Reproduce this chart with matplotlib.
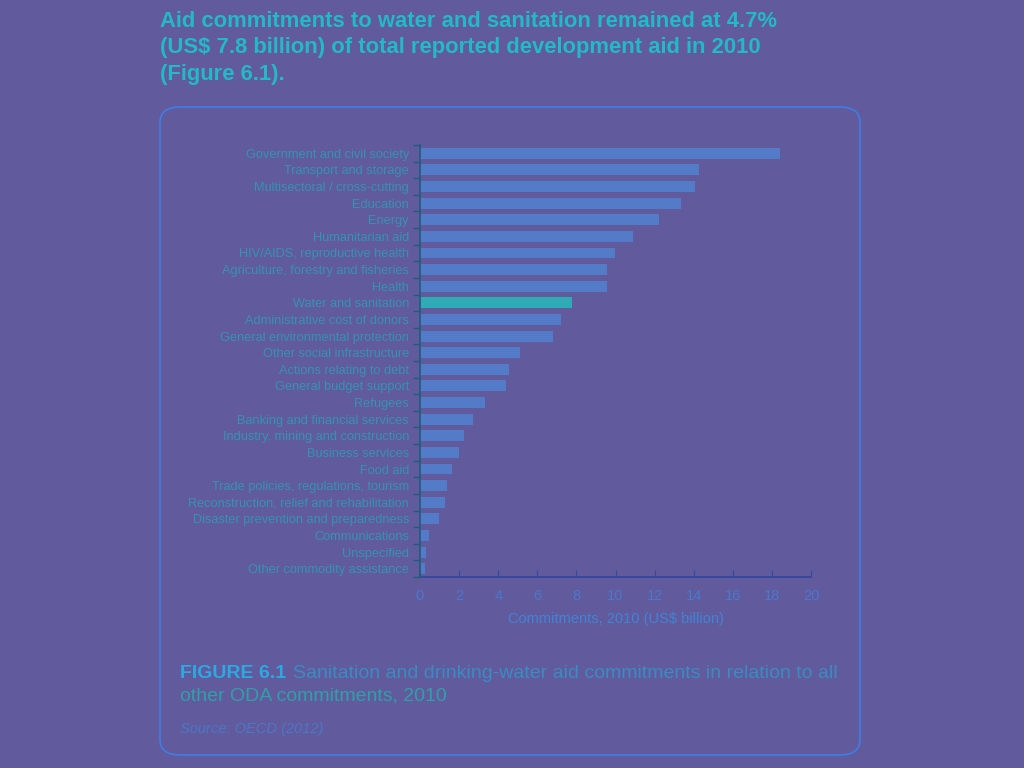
import matplotlib
matplotlib.use('Agg')
import matplotlib.pyplot as plt
from matplotlib.patches import FancyBboxPatch
from matplotlib.ticker import FixedLocator

sectors = ['Government and civil society', 'Transport and storage',
           'Multisectoral / cross-cutting', 'Education', 'Energy',
           'Humanitarian aid', 'HIV/AIDS, reproductive health',
           'Agriculture, forestry and fisheries', 'Health',
           'Water and sanitation', 'Administrative cost of donors',
           'General environmental protection', 'Other social infrastructure',
           'Actions relating to debt', 'General budget support', 'Refugees',
           'Banking and financial services', 'Industry, mining and construction',
           'Business services', 'Food aid', 'Trade policies, regulations, tourism',
           'Reconstruction, relief and rehabilitation',
           'Disaster prevention and preparedness', 'Communications',
           'Unspecified', 'Other commodity assistance']
commitments = [18.4, 14.27, 14.06, 13.33, 12.24, 10.89, 9.99, 9.57, 9.57,
               7.8, 7.2, 6.82, 5.09, 4.55, 4.38, 3.32, 2.69, 2.27, 2.02,
               1.65, 1.37, 1.29, 0.96, 0.44, 0.33, 0.27]
x_ticks = list(range(0, 21, 2))

bg = '#615a9c'
plt.rcParams['font.family'] = ['Liberation Sans Narrow', 'Liberation Sans', 'DejaVu Sans']

fig = plt.figure(figsize=(10.24, 7.68), dpi=100, facecolor=bg)

# rounded frame around the figure
box = FancyBboxPatch((160 / 1024, 1 - 755 / 768), 700 / 1024, 648 / 768,
                     boxstyle='round,pad=0,rounding_size=0.02',
                     transform=fig.transFigure, facecolor='none',
                     edgecolor='#3d7ee6', linewidth=1.2)
fig.patches.append(box)

# headline
fig.text(160 / 1024, 1 - 11 / 768,
         'Aid commitments to water and sanitation remained at 4.7%\n'
         '(US$ 7.8 billion) of total reported development aid in 2010\n'
         '(Figure 6.1).',
         ha='left', va='top', fontsize=15.8, fontweight='bold',
         color='#22b9c9', linespacing=1.33)

ax = fig.add_axes([420 / 1024, 1 - 577 / 768, 391 / 1024, 432 / 768])
ax.set_facecolor(bg)
colors = ['#22c0bc' if s == 'Water and sanitation' else '#5184d2' for s in sectors]
ypos = list(range(len(sectors)))
ax.barh(ypos, commitments, height=0.66, color=colors, alpha=0.8)
ax.set_ylim(len(sectors) - 0.5, -0.5)
ax.set_xlim(0, 20)

ax.set_yticks(ypos)
ax.set_yticklabels(sectors, fontsize=9.2, color='#3593b2')
ax.yaxis.set_minor_locator(FixedLocator([i - 0.5 for i in range(len(sectors) + 1)]))
ax.tick_params(axis='y', which='major', length=0, pad=8)
ax.tick_params(axis='y', which='minor', length=5, width=1, color='#1a5f7a',
               direction='out')

ax.set_xticks(x_ticks)
ax.set_xticklabels([str(v) for v in x_ticks], fontsize=10.5, color='#4a78cc')
ax.tick_params(axis='x', length=5, direction='in', color='#34489e', pad=9)
ax.set_xlabel('Commitments, 2010 (US$ billion)', fontsize=10.5, color='#3f85d6',
              labelpad=6)

for side in ['top', 'right']:
    ax.spines[side].set_visible(False)
ax.spines['left'].set_color('#1a5f7a')
ax.spines['left'].set_linewidth(1.2)
ax.spines['left'].set_zorder(3)
ax.spines['bottom'].set_color('#34489e')
ax.spines['bottom'].set_linewidth(1.3)

# caption
bold = fig.text(180 / 1024, 1 - 673 / 768, 'FIGURE 6.1', fontsize=14,
                fontweight='bold', color='#2aa9e2', ha='left', va='center')
fig.canvas.draw()
bb = bold.get_window_extent()
fig.text((bb.x1 + 7) / 1024, 1 - 673 / 768,
         'Sanitation and drinking-water aid commitments in relation to all',
         fontsize=14, color='#3a8cc0', ha='left', va='center')
fig.text(180 / 1024, 1 - 696 / 768, 'other ODA commitments, 2010', fontsize=14,
         color='#2fa0a8', ha='left', va='center')
fig.text(180 / 1024, 1 - 729 / 768, 'Source: OECD (2012)', fontsize=10.5,
         style='italic', color='#4a78c6', ha='left', va='center')

fig.savefig('out.png', dpi=100, facecolor=bg)
